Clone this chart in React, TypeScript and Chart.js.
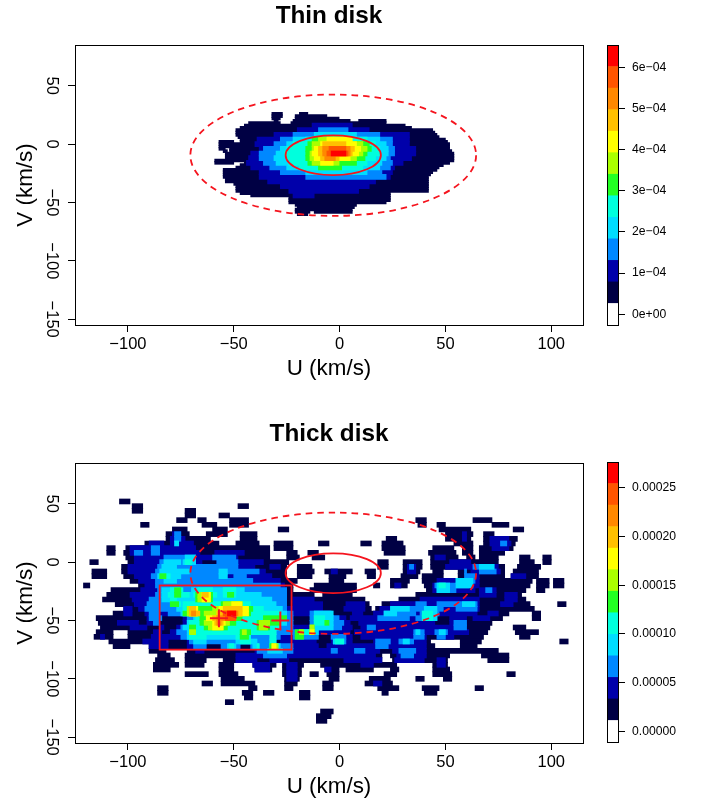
import React, { useEffect, useRef } from "react";
import { Chart, registerables } from "chart.js";

Chart.register(...registerables);

const FONT = "'Liberation Sans', Arial, Helvetica, sans-serif";
const RED = "#f5141e";

const levelColors = ["#000044", "#0000aa", "#0088ff", "#00ddff", "#00ffdd", "#22ff22", "#aaff00", "#ffff00", "#ffc000", "#ff8800", "#ff5500", "#ff0000"];
const barColors = ["#ffffff", ...levelColors];

const uTicks = [-100, -50, 0, 50, 100];
const vTicks = [-150, -100, -50, 0, 50];
const uRange = [-125, 115];
const vRange = [-155, 85];

// ellipses [centre U, centre V, semi-axis U, semi-axis V]
const innerEllipse = [-3, -9.5, 22.5, 17];
const outerEllipse = [-3, -9.5, 67.5, 52];
// box [U min, U max, V min, V max]
const thickBox = [-85, -22.7, -75, -20];
const thickCrosses = [{ x: -57, y: -48 }, { x: -28, y: -50 }];

const thinBarEdges = [-0.262e-4, 0.262e-4, 0.786e-4, 1.31e-4, 1.833e-4, 2.357e-4, 2.881e-4, 3.405e-4, 3.929e-4, 4.452e-4, 4.976e-4, 5.5e-4, 6.024e-4, 6.548e-4];
const thinBarTicks = [0, 1e-4, 2e-4, 3e-4, 4e-4, 5e-4, 6e-4];
const thinBarLabels = ["0e+00", "1e\u221204", "2e\u221204", "3e\u221204", "4e\u221204", "5e\u221204", "6e\u221204"];
const thickBarEdges = [-1.09e-5, 1.12e-5, 3.33e-5, 5.54e-5, 7.75e-5, 9.96e-5, 12.17e-5, 14.38e-5, 16.59e-5, 18.8e-5, 21.01e-5, 23.22e-5, 25.43e-5, 27.64e-5];
const thickBarTicks = [0, 5e-5, 10e-5, 15e-5, 20e-5, 25e-5];
const thickBarLabels = ["0.00000", "0.00005", "0.00010", "0.00015", "0.00020", "0.00025"];

// each row: [V, U start, U end, U start, U end, ...]
const thin1 = [
  [26, -32, -27, -19, -15], [24, -32, -27, -21, -6], [22, -32, -28, -21, 0], [20, -31, -29, -22, 5, 9, 22],
  [18, -43, -28, -23, 22], [16, -45, 31], [14, -47, 34], [12, -49, 44], [10, -49, 45], [8, -49, 46], [6, -48, 47], [4, -47, 50],
  [2, -57, -50, -47, 51], [0, -57, 52], [-2, -57, 52], [-4, -57, -54, -52, 52], [-6, -55, -53, -52, 53], [-8, -54, 54],
  [-10, -54, 54], [-12, -54, 54], [-14, -59, 54], [-16, -59, -50, -45, 52], [-18, -47, 49], [-20, -49, 47], [-22, -55, 46],
  [-24, -55, 44], [-26, -55, 43], [-28, -55, 42], [-30, -54, 42], [-32, -54, 42], [-34, -50, 42], [-36, -49, 42], [-38, -49, 42],
  [-40, -49, 42], [-42, -47, 24], [-44, -42, 24], [-46, -24, 24], [-48, -24, 24], [-50, -24, 22], [-52, -21, 8], [-54, -20, 7],
  [-56, -21, 6], [-58, -21, -14, -12, 6], [-60, -20, -15],
];
const thin2 = [
  [16, -13, 6], [12, -20, 14], [8, -31, 33], [4, -39, 33], [0, -40, 33], [-4, -38, 36], [-8, -42, 36], [-12, -43, 34],
  [-16, -44, 30], [-20, -42, 26], [-24, -38, 25], [-28, -38, 24], [-32, -34, 17], [-36, -28, 14], [-40, -24, 9], [-44, -22, -12],
];
const thin3 = [
  [12, -10, 4], [8, -22, 19], [4, -28, 25], [0, -31, 25], [-4, -36, 26], [-8, -38, 26], [-12, -38, 24], [-16, -36, 25],
  [-20, -33, 24], [-24, -28, 20], [-28, -16, 22],
];
const thin4 = [[8, -12, 8], [4, -22, 19], [0, -25, 22], [-4, -28, 23], [-8, -30, 23], [-12, -31, 22], [-16, -30, 20], [-20, -25, 19], [-24, -16, 13]];
const thin5 = [[4, -16, 13], [0, -22, 17], [-4, -25, 19], [-8, -26, 19], [-12, -25, 17], [-16, -24, 13], [-20, -19, 11]];
const thin6 = [[4, -13, 0], [0, -15, 14], [-4, -16, 15], [-8, -16, 13], [-12, -16, 12], [-16, -15, 8], [-20, -10, 1]];
const thin7 = [[4, -10, 4], [0, -13, 11], [-4, -13, 13], [-8, -14, 11], [-12, -14, 8], [-16, -13, 0]];
const thin8 = [[4, -6, 6], [0, -9, 8], [-4, -12, 10], [-8, -13, 9], [-12, -12, 5], [-16, -9, -3]];
const thin9 = [[0, -8, 3], [-4, -10, 7], [-8, -10, 6], [-12, -9, 0]];
const thin10 = [[-4, -8, 5], [-8, -8, 5], [-12, -7, -2]];
const thin11 = [[-4, -5, 3], [-8, -6, 4]];
const thin12 = [[-8, -4, 3]];

const thick1 = [
  [52, -104, -99], [48, -98, -93, -48, -43], [44, -98, -93, -73, -68], [40, -73, -68, -57, -52],
  [36, -77, -72, -67, -63, -52, -43, 36, 41, 63, 72], [32, -94, -90, -65, -58, -52, -43, 37, 41, 46, 50, 72, 80],
  [28, -79, -72, -60, -53, -29, -24, 47, 62, 82, 87], [24, -82, -71, -63, -53, -47, -39, 50, 63, 68, 73],
  [20, -82, -61, -47, -39, 22, 27, 50, 62, 68, 84], [16, -92, -57, -49, -38, -31, -22, -10, -5, 10, 15, 20, 30, 54, 63, 68, 83],
  [12, -110, -106, -101, -33, -31, -22, 20, 31, 44, 54, 58, 63, 66, 82],
  [8, -110, -106, -102, -33, -25, -20, -15, -10, 21, 31, 42, 55, 58, 63, 66, 78],
  [4, -101, -33, -25, -19, -13, -7, 43, 56, 60, 64, 66, 75, 85, 90, 96, 100],
  [0, -118, -114, -100, -24, 18, 23, 30, 39, 43, 75, 85, 92, 96, 100],
  [-4, -103, -25, -20, -13, 18, 23, 30, 39, 43, 78, 84, 95],
  [-8, -117, -110, -103, -25, -20, -12, -7, 6, 12, 17, 30, 38, 44, 49, 56, 78, 82, 94],
  [-12, -117, -110, -102, -25, -20, -13, -5, 3, 13, 17, 29, 37, 39, 49, 56, 78, 81, 94],
  [-16, -99, -20, -5, 2, 24, 33, 39, 91, 93, 99, 101, 106],
  [-20, -121, -118, -95, -22, -12, 8, 16, 19, 24, 32, 40, 90, 93, 99, 101, 106],
  [-24, -108, -22, -14, 8, 41, 88, 93, 97], [-28, -110, -12, -8, 6, 36, 86], [-32, -112, 12, 28, 88],
  [-36, -106, 14, 20, 90, 103, 107], [-40, -102, 15, 17, 92], [-44, -107, 80, 91, 95], [-48, -115, 77, 91, 95],
  [-52, -114, 72], [-56, -113, 71, 82, 88], [-60, -115, -107, -100, 70, 83, 94], [-64, -116, -107, -100, 68, 85, 90],
  [-68, -109, 43, 57, 67, 104, 108], [-72, -107, -99, -90, 45, 57, 65], [-76, -90, -82, -72, 75],
  [-80, -86, -80, -73, 20, 24, 52, 67, 80], [-84, -87, -78, -73, -63, -55, 20, 25, 51, 70, 80],
  [-88, -88, -76, -73, -64, -57, -50, -41, -30, -27, -17, -9, 27, 44, 51],
  [-92, -88, -80, -57, -50, -40, -32, -27, -18, -7, 0, 3, 16, 24, 28, 44, 52],
  [-96, -73, -62, -57, -48, -27, -18, -14, -10, -6, 0, 21, 27, 44, 53, 79, 83],
  [-100, -56, -45, -26, -19, -5, 0, 14, 24, 36, 40, 49, 53], [-104, -65, -60, -56, -40, -26, -20, -8, -3, 12, 25],
  [-108, -86, -81, -43, -39, -26, -22, -8, -3, 18, 28, 39, 47, 64, 68],
  [-112, -86, -81, -46, -41, -36, -31, -19, -14, 20, 23, 40, 46], [-116, -45, -41, -19, -14], [-120, -54, -50],
  [-128, -9, -3], [-132, -11, -4], [-136, -11, -6],
];
const thick2 = [
  [24, -79, -75, 58, 60], [20, -80, -73, 58, 60, 71, 80], [16, -90, -83, -80, -69, 71, 81], [12, -99, -68, 72, 80],
  [8, -99, -66, -59, -45], [4, -97, -48, 45, 50], [0, -97, -65, -58, -36, 52, 62],
  [-4, -100, -40, -33, -28, 32, 36, 50, 75], [-8, -100, -35, -4, -1, 32, 36, 62, 76], [-12, -97, -32, 60, 66, 81, 88],
  [-16, -95, -28, 46, 66], [-20, -92, -26, 26, 29, 44, 66], [-24, -94, -25, 44, 64, 66, 74], [-28, -99, -25, 66, 74, 78, 84],
  [-32, -98, -25, -22, -12, 38, 66, 78, 84], [-36, -97, -25, -22, -8, 3, 12, 24, 66, 76, 82],
  [-40, -102, -98, -95, -8, 2, 12, 19, 66], [-44, -102, -98, -92, -4, 6, 11, 16, 65, 70, 75],
  [-48, -91, -84, -74, -22, -11, 3, 5, 46, 52, 60, 63, 71], [-52, -105, -95, -91, -85, -74, -22, -11, 5, 9, 45, 52, 60],
  [-56, -99, -91, -85, -83, -77, 6, 10, 60], [-60, -88, -84, -80, 5, 7, 61],
  [-64, -113, -111, -89, -83, -84, -11, -4, 6, 10, 41, 46, 54],
  [-68, -93, -81, -72, -63, -56, -47, -42, -30, -28, -11, -4, 6, 16, 41],
  [-72, -90, -81, -72, -63, -56, -47, -42, -10, -6, 41], [-76, -68, -64, -40, 19, 25, 41], [-80, -49, 17, 27, 41],
  [-84, -49, -39, -33, -24, 2, 20, 26, 40, 46, 50], [-88, -41, -33, -25, -20, 10, 16, 46, 50], [-92, -40, -33, -25, -20, -7, -4],
  [-96, -25, -20], [-100, -25, -20], [-104, 16, 20],
];
const thick3 = [
  [24, -78, -75], [20, -78, -75], [16, 76, 79], [12, -89, -85], [8, -97, -93, -89, -85], [4, -83, -68, -60, -49],
  [0, -85, -68, -58, -48], [-4, -86, -48, 33, 35, 63, 73], [-8, -87, -38, 59, 60, 66, 74], [-12, -89, -55, -50, -44, 59, 64],
  [-16, -87, -41, 55, 64], [-20, -87, -28, 45, 61], [-24, -86, -25, 46, 55, 69, 72], [-28, -87, -25], [-32, -90, -25],
  [-36, -91, -25, 36, 41, 46, 65], [-40, -92, -25, 26, 40, 42, 49, 55, 65],
  [-44, -90, -85, -81, -22, -14, -4, 21, 36, 38, 47], [-48, -90, -84, -72, -22, -14, 0, 18, 33, 36, 46],
  [-52, -88, -85, -72, -22, -14, 2, 54, 60], [-56, -75, -22, -14, 1, 13, 17, 54, 60], [-60, -77, -10, 35, 40, 45, 51],
  [-64, -75, -28, -22, -10, -4, 3, 35, 40, 46, 50], [-68, -71, -30, -3, 3, 17, 24, 28, 35], [-72, -69, -63, -56, -47, -42, -22, 17, 23],
  [-76, -39, -22, -4, -1, 7, 12, 28, 36], [-80, -36, -25, 29, 35],
];
const thick4 = [
  [16, -78, -76], [4, -73, -68], [0, -83, -75, -74, -68], [-4, -84, -77, 66, 73], [-8, -85, -71, -57, -53], [-12, -86, -75, -57, -53],
  [-16, -83, -77, 55, 63], [-20, 46, 52, 55, 63], [-24, -84, -75, -70, -45, 46, 52], [-28, -84, -37], [-32, -84, -32],
  [-36, -78, -30, 58, 64], [-40, -77, -27, 24, 33, 40, 46], [-44, -75, -25, -12, -3, 21, 27, 40, 46], [-48, -69, -25, -12, -3, 40, 46],
  [-52, -72, -25, -12, -3], [-56, -74, -28, -12, -3], [-60, -72, -30, -19, -10, 36, 38, 47, 50], [-64, -72, -47],
  [-68, -69, -63, -49, -39, -3, 2, 30, 33], [-72, -53, -49, -41, -38, -33, -28], [-76, -34, -27],
];
const thick5 = [
  [0, -73, -70], [-12, -84, -80], [-20, 47, 50], [-24, -80, -74, -67, -60, -55, -49], [-28, -81, -71, -69, -58, -55, -49], [-32, -80, -77, -68, -60],
  [-36, -80, -75, -74, -42], [-40, -74, -36], [-44, -74, -28, 39, 44], [-48, -68, -31, -12, -7, 39, 44], [-52, -71, -33, -12, -7],
  [-56, -71, -57, -55, -28], [-60, -71, -30, -17, -13], [-64, -71, -63, -49, -42, -33, -30], [-68, -47, -42, -33, -30, -2, 2],
  [-72, -52, -50, -39, -38, -33, -29],
];
const thick6 = [
  [-12, -85, -82], [-24, -78, -75], [-28, -78, -75, -68, -60, -53, -50], [-32, -68, -60], [-36, -80, -76, -56, -46],
  [-40, -72, -41], [-44, -74, -42], [-48, -66, -46, -36, -25], [-52, -66, -49, -39, -28, -7, -5], [-56, -71, -68, -64, -53, -39, -33, -14, -12],
  [-60, -71, -68, -47, -42, -21, -17, -14, -12], [-64, -47, -43, -21, -17], [-72, -33, -30],
];
const thick7 = [
  [-28, -67, -61], [-32, -67, -61], [-36, -55, -47], [-40, -72, -67, -60, -45], [-44, -72, -67, -64, -46], [-48, -63, -49],
  [-52, -64, -52, -38, -33], [-56, -62, -55, -38, -34, -14, -12], [-60, -71, -68, -46, -44, -19, -17, -14, -12], [-72, -32, -29],
];
const thick8 = [
  [-28, -65, -61], [-32, -65, -61], [-36, -51, -46], [-40, -71, -67, -57, -43], [-44, -71, -67, -58, -43], [-48, -63, -52],
  [-52, -60, -54], [-56, -60, -55], [-60, -14, -12], [-72, -32, -30],
];
const thick9 = [[-28, -65, -62], [-40, -71, -68, -55, -46], [-44, -71, -66, -58, -46], [-48, -60, -53], [-52, -59, -55]];
const thick10 = [[-44, -70, -68, -55, -48], [-48, -58, -50], [-52, -58, -56]];
const thick11 = [[-44, -55, -49], [-48, -54, -49]];
const thick12 = [[-44, -53, -49]];

const thinLevels = [thin1, thin2, thin3, thin4, thin5, thin6, thin7, thin8, thin9, thin10, thin11, thin12];
const thickLevels = [thick1, thick2, thick3, thick4, thick5, thick6, thick7, thick8, thick9, thick10, thick11, thick12];

function spans(rows: number[][]) {
  const out: any[] = [];
  for (const r of rows) for (let i = 1; i + 1 < r.length; i += 2) out.push({ x: [r[i], r[i + 1]], y: r[0] });
  return out;
}

const boxPlugin = {
  id: "box",
  afterDatasetsDraw(chart: any) {
    const { ctx, chartArea: a } = chart;
    ctx.save();
    ctx.strokeStyle = "#000";
    ctx.lineWidth = 1;
    ctx.strokeRect(Math.round(a.left) + 0.5, Math.round(a.top) + 0.5, Math.round(a.right - a.left), Math.round(a.bottom - a.top));
    ctx.restore();
  },
};

const overlayPlugin = (withBox: boolean) => ({
  id: "overlay",
  afterDatasetsDraw(chart: any) {
    const { ctx, scales: { x, y } } = chart;
    const ell = (e: number[]) => {
      const cx = x.getPixelForValue(e[0]);
      const cy = y.getPixelForValue(e[1]);
      ctx.beginPath();
      ctx.ellipse(cx, cy, Math.abs(x.getPixelForValue(e[0] + e[2]) - cx), Math.abs(y.getPixelForValue(e[1] + e[3]) - cy), 0, 0, Math.PI * 2);
      ctx.stroke();
    };
    ctx.save();
    ctx.strokeStyle = RED;
    ctx.lineWidth = 1.8;
    ell(innerEllipse);
    ctx.setLineDash([6.5, 5]);
    ell(outerEllipse);
    ctx.setLineDash([]);
    if (withBox) {
      const [u0, u1, v0, v1] = thickBox;
      ctx.strokeRect(x.getPixelForValue(u0), y.getPixelForValue(v1), x.getPixelForValue(u1) - x.getPixelForValue(u0), y.getPixelForValue(v0) - y.getPixelForValue(v1));
    }
    ctx.restore();
  },
});

function makeMap(canvas: HTMLCanvasElement, title: string, levels: number[][][], crosses: any[] | null, firstThickness: number) {
  const datasets: any[] = levels.map((rows, i) => ({
    type: "bar",
    indexAxis: "y",
    data: spans(rows),
    backgroundColor: levelColors[i],
    borderWidth: 0,
    barThickness: i === 0 ? firstThickness : 5,
    grouped: false,
    order: 100 - i,
  }));
  if (crosses) {
    datasets.push({
      type: "scatter",
      data: crosses,
      pointStyle: "cross",
      pointRadius: 9,
      pointBorderWidth: 2,
      pointBorderColor: RED,
      showLine: false,
      order: 0,
    });
  }
  const tickOpts = { font: { family: FONT, size: 16.5 }, color: "#000" };
  const minus = (v: any) => String(v).replace("-", "\u2212");
  return new Chart(canvas, {
    type: "bar",
    data: { datasets },
    plugins: [overlayPlugin(!!crosses), boxPlugin],
    options: {
      animation: false,
      responsive: false,
      devicePixelRatio: 1,
      layout: { autoPadding: false, padding: { left: 0, right: 7, top: 0, bottom: 0 } },
      plugins: {
        legend: { display: false },
        tooltip: { enabled: false },
        title: {
          display: true,
          text: title,
          fullSize: false,
          color: "#000",
          font: { family: FONT, size: 24.3, weight: "bold", lineHeight: 1.2 },
          padding: { top: 1.4, bottom: 14.4 },
        },
      },
      scales: {
        x: {
          type: "linear",
          min: uRange[0],
          max: uRange[1],
          offset: false,
          grid: { display: true, drawOnChartArea: false, drawTicks: true, tickLength: 7, tickColor: "#000", offset: false },
          border: { display: false },
          ticks: { ...tickOpts, autoSkip: false, maxRotation: 0, minRotation: 0, padding: 2.5, callback: minus },
          afterBuildTicks: (s: any) => { s.ticks = uTicks.map((value) => ({ value })); },
          afterFit: (s: any) => { s.height = 65; },
          title: { display: true, text: "U (km/s)", color: "#000", font: { family: FONT, size: 22.4 }, padding: { top: 7.6, bottom: 7.6 } },
        },
        y: {
          type: "linear",
          min: vRange[0],
          max: vRange[1],
          offset: false,
          grid: { display: true, drawOnChartArea: false, drawTicks: true, tickLength: 7, tickColor: "#000", offset: false },
          border: { display: false },
          ticks: { ...tickOpts, autoSkip: false, minRotation: -90, maxRotation: -90, crossAlign: "center", padding: -2.5, callback: minus },
          afterBuildTicks: (s: any) => { s.ticks = vTicks.map((value) => ({ value })); },
          afterFit: (s: any) => { s.width = 75; },
          title: { display: true, text: "V (km/s)", color: "#000", font: { family: FONT, size: 22.4 }, padding: { top: 12, bottom: 12 } },
        },
      },
    } as any,
  } as any);
}

function makeBar(canvas: HTMLCanvasElement, edges: number[], ticks: number[], labels: string[]) {
  const datasets = barColors.map((c, i) => ({
    data: [[edges[i], edges[i + 1]]],
    backgroundColor: c,
    borderWidth: 0,
    grouped: false,
    categoryPercentage: 1,
    barPercentage: 1,
  }));
  return new Chart(canvas, {
    type: "bar",
    data: { labels: [""], datasets },
    plugins: [boxPlugin],
    options: {
      animation: false,
      responsive: false,
      devicePixelRatio: 1,
      layout: { autoPadding: false, padding: { left: 17, right: 0, top: 10, bottom: 10 } },
      plugins: { legend: { display: false }, tooltip: { enabled: false } },
      scales: {
        x: { display: false },
        y: {
          position: "right",
          min: edges[0],
          max: edges[edges.length - 1],
          grid: { display: true, drawOnChartArea: false, drawTicks: true, tickLength: 7, tickColor: "#000" },
          border: { display: false },
          ticks: {
            font: { family: FONT, size: 12.2 },
            color: "#000",
            autoSkip: false,
            padding: 7,
            callback: (v: any) => labels[ticks.indexOf(v)] ?? "",
          },
          afterBuildTicks: (s: any) => { s.ticks = ticks.map((value) => ({ value })); },
          afterFit: (s: any) => { s.width = 85; s.paddingTop = 0; s.paddingBottom = 0; },
        },
      },
    } as any,
  } as any);
}

const pos = (left: number, top: number): React.CSSProperties => ({ position: "absolute", left, top });

export default function App() {
  const a = useRef<HTMLCanvasElement>(null);
  const b = useRef<HTMLCanvasElement>(null);
  const c = useRef<HTMLCanvasElement>(null);
  const d = useRef<HTMLCanvasElement>(null);
  useEffect(() => {
    const charts = [
      makeMap(a.current!, "Thin disk", thinLevels, null, 3),
      makeBar(b.current!, thinBarEdges, thinBarTicks, thinBarLabels),
      makeMap(c.current!, "Thick disk", thickLevels, thickCrosses, 5),
      makeBar(d.current!, thickBarEdges, thickBarTicks, thickBarLabels),
    ];
    return () => charts.forEach((ch) => ch.destroy());
  }, []);
  return (
    <div style={{ position: "absolute", left: 0, top: 0, width: 703, height: 802, overflow: "hidden", background: "#fff" }}>
      <canvas ref={a} width={590} height={390} style={pos(0, 0)} />
      <canvas ref={b} width={113} height={300} style={pos(590, 35)} />
      <canvas ref={c} width={590} height={390} style={pos(0, 418)} />
      <canvas ref={d} width={113} height={300} style={pos(590, 452)} />
    </div>
  );
}
